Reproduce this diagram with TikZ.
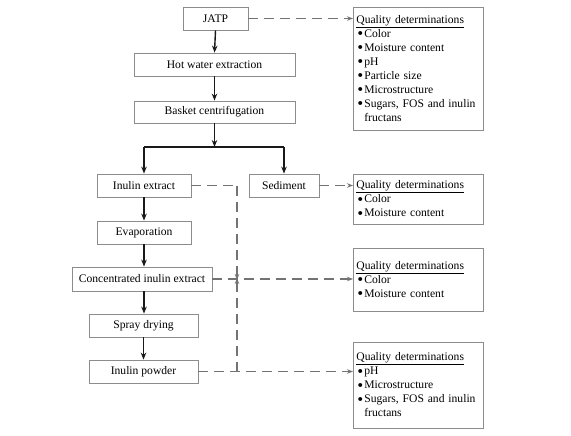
\documentclass[tikz,border=0pt]{standalone}
\usepackage{fontspec}
\setmainfont{Liberation Serif}
\newfontfamily\bulfont{DejaVu Sans}
\usetikzlibrary{arrows.meta}
\begin{document}
\begin{tikzpicture}[x=1pt,y=-1pt,
  stepbox/.style={draw=black!45, line width=0.8pt, inner sep=0pt, font=\fontsize{11.6}{14}\selectfont},
  qbox/.style={draw=black!45, line width=0.8pt, anchor=north west, minimum width=130pt, text width=124pt, inner xsep=3pt, inner ysep=0pt, align=left, font=\fontsize{11.6}{14}\selectfont},
  flow/.style={draw=black!90, line width=1.4pt, -{Stealth[length=7pt,width=5.5pt]}},
  feed/.style={draw=black!55, line width=1.1pt, dash pattern=on 10pt off 6pt},
  feedarr/.style={feed, -{Stealth[length=6pt,width=4.5pt]}}
]
\useasboundingbox (0,0) rectangle (571,436);

% process steps
\node[stepbox, minimum width=65pt, minimum height=23pt] (jatp) at (215.5,18.5) {JATP};
\node[stepbox, minimum width=161pt, minimum height=23pt] (hot) at (214.5,64.5) {Hot water extraction};
\node[stepbox, minimum width=161pt, minimum height=22pt] (bask) at (214.5,112) {Basket centrifugation};
\node[stepbox, minimum width=94pt, minimum height=23pt] (inex) at (144,185.5) {Inulin extract};
\node[stepbox, minimum width=70pt, minimum height=23pt] (sed) at (284,185.5) {Sediment};
\node[stepbox, minimum width=94pt, minimum height=23pt] (evap) at (144,232.5) {Evaporation};
\node[stepbox, minimum width=140pt, minimum height=24pt] (conc) at (142,279) {Concentrated inulin extract};
\node[stepbox, minimum width=109pt, minimum height=23pt] (spray) at (143.5,325.5) {Spray drying};
\node[stepbox, minimum width=109pt, minimum height=23pt] (powd) at (143.5,371.5) {Inulin powder};

% quality boxes
\newcommand\qbul{\raisebox{-1.3pt}{\bulfont\fontsize{13.5}{14}\selectfont •}}
\newcommand\qhead{\underline{Quality determinations}}
\node[qbox, minimum height=123pt] (q1) at (353,7) {\qhead\\
  \qbul Color\\ \qbul Moisture content\\ \qbul pH\\ \qbul Particle size\\ \qbul Microstructure\\
  \qbul Sugars, FOS and inulin\\ \phantom{\qbul}fructans};
\node[qbox, minimum height=50pt] (q2) at (353,174) {\qhead\\
  \qbul Color\\ \qbul Moisture content};
\node[qbox, minimum height=63pt] (q3) at (353,248) {\qhead\\
  \qbul Color\\ \qbul Moisture content};
\node[qbox, minimum height=86pt] (q4) at (353,342) {\qhead\\
  \qbul pH\\ \qbul Microstructure\\ \qbul Sugars, FOS and inulin\\ \phantom{\qbul}fructans};

% coordinates for branching and feedback
\coordinate (jn) at (214.5,147);
\coordinate (jl) at (144,147);
\coordinate (jr) at (284,147);
\coordinate (ftop) at (237,185.5);
\coordinate (fmid) at (237,279);
\coordinate (fbot) at (237,371.5);

% solid flow
\draw[flow] (jatp.south) -- (hot.north);
\draw[flow] (hot.south) -- (bask.north);
\draw[flow] (bask.south) -- (jn);
\draw[draw=black!90, line width=1.6pt] (jl) -- (jr);
\draw[flow] (jl) -- (inex.north);
\draw[flow] (jr) -- (sed.north);
\draw[flow] (inex.south) -- (evap.north);
\draw[flow] (evap.south) -- (evap.south |- conc.north);
\draw[flow] (evap.south |- conc.south) -- (evap.south |- spray.north);
\draw[flow] (spray.south) -- (powd.north);

% dashed connections
\draw[feedarr] (jatp.east) -- (jatp.east -| q1.west);
\draw[feedarr] (sed.east) -- (sed.east -| q2.west);
\draw[feed] (inex.east) -- (ftop);
\draw[feedarr] (ftop) -- ([yshift=-1pt]fmid);
\draw[feed] (powd.east) -- (fbot);
\draw[feedarr] (fbot) -- ([yshift=1pt]fmid);
\draw[feedarr] (conc.east) -- (conc.east -| q3.west);
\draw[feedarr] (powd.east) -- (powd.east -| q4.west);
\end{tikzpicture}
\end{document}
